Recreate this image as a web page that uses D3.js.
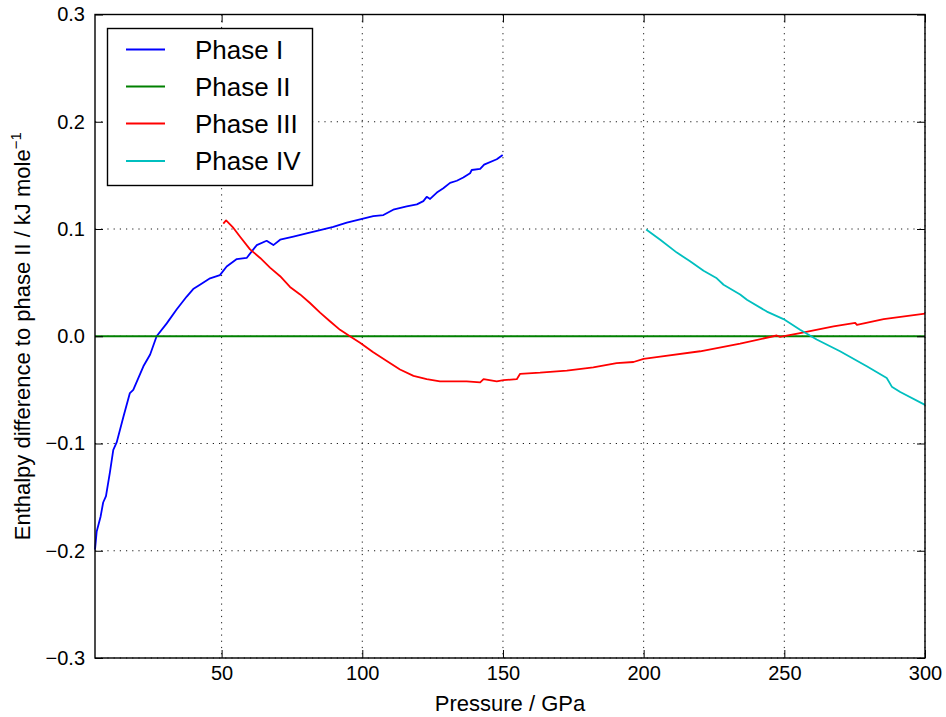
<!DOCTYPE html>
<html><head><meta charset="utf-8">
<script src="https://cdn.jsdelivr.net/npm/d3@7"></script>
<style>
body{margin:0;background:#fff;}
svg{display:block;font-family:"Liberation Sans",Arial,sans-serif;}
</style></head>
<body>
<svg id="chart" width="946" height="717"></svg>
<script>
const seriesNames = ["Phase I","Phase II","Phase III","Phase IV"];
const seriesColors = ["#0000ff","#008000","#ff0000","#00bfbf"];

const phase1X = [5,5.6,7.0,7.9,8.9,10.3,11.5,12.7,15.1,17.4,18.6,22.2,24.6,26.9,30.5,34.0,37.6,39.9,42.3,45.9,49.4,51.8,55.4,58.9,62.5,66.0,68.4,70.8,75.5,80.2,85.0,89.7,94.5,99.2,103.9,107.5,111.0,115.8,119.4,121.7,122.9,124.1,126.5,128.8,131.2,133.6,135.9,138.3,138.9,141.9,143.3,147.8,149.9];
const phase1Y = [-0.199,-0.182,-0.168,-0.155,-0.149,-0.127,-0.106,-0.099,-0.075,-0.053,-0.050,-0.028,-0.017,0.0,0.012,0.025,0.037,0.044,0.048,0.054,0.057,0.065,0.072,0.073,0.085,0.089,0.085,0.090,0.093,0.096,0.099,0.102,0.106,0.109,0.112,0.113,0.118,0.121,0.123,0.126,0.130,0.128,0.134,0.138,0.143,0.145,0.148,0.152,0.155,0.156,0.160,0.165,0.169];

const phase2X = [5,300];
const phase2Y = [0,0];

const phase3X = [50.6,51.6,54.2,56.5,60.1,63.7,67.2,70.8,74.3,77.9,81.4,85.0,88.5,92.1,95.6,99.2,103.9,108.7,113.4,118.2,122.9,127.6,132.4,137.1,141.9,143.1,147.8,150.2,154.9,156.1,163.2,172.7,182.1,190.4,196.4,200,205.9,220.1,234.3,247.3,248.5,255.6,267.5,275.2,275.8,285.3,300];
const phase3Y = [0.105,0.108,0.101,0.093,0.081,0.073,0.064,0.056,0.046,0.039,0.031,0.022,0.014,0.006,0.0,-0.006,-0.015,-0.023,-0.031,-0.037,-0.040,-0.042,-0.042,-0.042,-0.043,-0.040,-0.042,-0.041,-0.040,-0.035,-0.034,-0.032,-0.029,-0.025,-0.024,-0.021,-0.019,-0.014,-0.0068,0.0007,-0.0006,0.003,0.0093,0.0125,0.0106,0.016,0.021];

const phase4X = [200.9,205.9,211.8,216.5,221.3,226.0,228.4,234.3,236.7,243.8,249.7,255.6,261.5,269.8,279.3,286.4,288.2,291.2,300];
const phase4Y = [0.0996,0.090,0.078,0.070,0.061,0.054,0.048,0.039,0.034,0.023,0.016,0.006,-0.003,-0.014,-0.028,-0.039,-0.047,-0.052,-0.064];

const xTicks = [50,100,150,200,250,300];
const yTicks = [-0.3,-0.2,-0.1,0.0,0.1,0.2,0.3];

const xLabel = "Pressure / GPa";
const yLabelMain = "Enthalpy difference to phase II / kJ mole";
const yLabelSup = "−1";

const svg = d3.select("#chart");
const L = 95, R = 925, T = 14.5, B = 658;
const x = d3.scaleLinear().domain([5,300]).range([L,R]);
const y = d3.scaleLinear().domain([-0.3,0.3]).range([B,T]);

// grid
const grid = svg.append("g");
xTicks.forEach(t => {
  grid.append("line").attr("x1",x(t)).attr("x2",x(t)).attr("y1",T).attr("y2",B)
    .attr("stroke","#000").attr("stroke-width",0.9).attr("stroke-dasharray","1.2,5");
});
yTicks.forEach(t => {
  grid.append("line").attr("x1",L).attr("x2",R).attr("y1",y(t)).attr("y2",y(t))
    .attr("stroke","#000").attr("stroke-width",0.9).attr("stroke-dasharray","1.2,5");
});

// lines
const allSeries = [[phase1X,phase1Y],[phase2X,phase2Y],[phase3X,phase3Y],[phase4X,phase4Y]];
const line = d3.line().x(d=>x(d[0])).y(d=>y(d[1]));
const plot = svg.append("g");
allSeries.forEach((s,i) => {
  const pts = s[0].map((v,j)=>[v,s[1][j]]);
  plot.append("path").datum(pts).attr("d",line).attr("fill","none")
    .attr("stroke",seriesColors[i]).attr("stroke-width",1.8).attr("stroke-linejoin","round");
});

// axes (ticks inside, both sides)
const fmtY = v => (v<0?"−":"") + Math.abs(v).toFixed(1);
const axB = d3.axisBottom(x).tickValues(xTicks).tickSizeInner(-8).tickSizeOuter(0).tickPadding(8).tickFormat(d3.format("d"));
const axT = d3.axisTop(x).tickValues(xTicks).tickSizeInner(-8).tickSizeOuter(0).tickFormat("");
const axLft = d3.axisLeft(y).tickValues(yTicks).tickSizeInner(-8).tickSizeOuter(0).tickPadding(10).tickFormat(fmtY);
const axRt = d3.axisRight(y).tickValues(yTicks).tickSizeInner(-8).tickSizeOuter(0).tickFormat("");

function styleAxis(g){
  g.select(".domain").remove();
  g.selectAll(".tick line").attr("stroke","#000").attr("stroke-width",1);
  g.selectAll(".tick text").attr("fill","#000").style("font-size","20px").style("font-family","'Liberation Sans',Arial,sans-serif");
}
svg.append("g").attr("transform",`translate(0,${B})`).call(axB).call(styleAxis);
svg.append("g").attr("transform",`translate(0,${T})`).call(axT).call(styleAxis);
svg.append("g").attr("transform",`translate(${L},0)`).call(axLft).call(styleAxis);
svg.append("g").attr("transform",`translate(${R},0)`).call(axRt).call(styleAxis);

// frame
svg.append("rect").attr("x",L).attr("y",T).attr("width",R-L).attr("height",B-T)
  .attr("fill","none").attr("stroke","#000").attr("stroke-width",1.4);

// axis labels
svg.append("text").attr("x",(L+R)/2).attr("y",711).attr("text-anchor","middle")
  .style("font-size","22px").text(xLabel);
const yl = svg.append("text").attr("transform",`translate(30,${(T+B)/2}) rotate(-90)`)
  .attr("text-anchor","middle").style("font-size","22px");
yl.append("tspan").text(yLabelMain);
yl.append("tspan").attr("dy",-9).style("font-size","15px").text(yLabelSup);

// legend
const lg = svg.append("g");
lg.append("rect").attr("x",107.5).attr("y",28.5).attr("width",205).attr("height",157)
  .attr("fill","#fff").attr("stroke","#000").attr("stroke-width",1.4);
const legY = [49.5,86.5,123.5,161];
seriesNames.forEach((n,i)=>{
  lg.append("line").attr("x1",126).attr("x2",165).attr("y1",legY[i]).attr("y2",legY[i])
    .attr("stroke",seriesColors[i]).attr("stroke-width",1.8);
  lg.append("text").attr("x",195).attr("y",legY[i]).attr("dy","0.36em")
    .style("font-size","26px").text(n);
});
</script>
</body></html>
